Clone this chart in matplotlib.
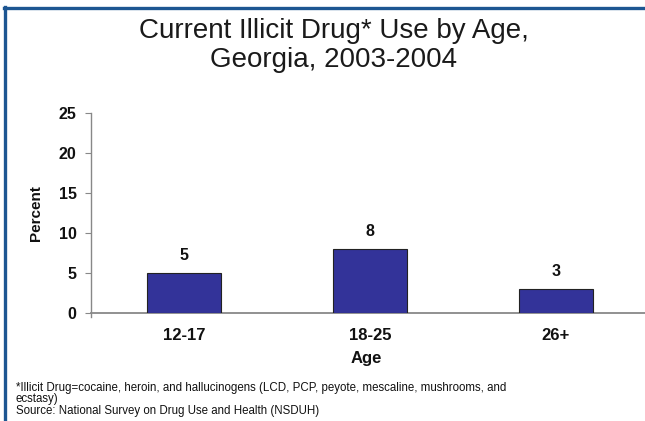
import matplotlib
matplotlib.use("Agg")
import matplotlib.pyplot as plt
from matplotlib.lines import Line2D

categories = ["12-17", "18-25", "26+"]
values = [5, 8, 3]
yticks = [0, 5, 10, 15, 20, 25]

plt.rcParams['font.family'] = ['Liberation Sans', 'DejaVu Sans']

W, H = 645, 421
fig = plt.figure(figsize=(W / 100, H / 100), dpi=100)

def fx(px):
    return px / W

def fy(py):
    return 1 - py / H

# frame lines (top and left)
border = "#1d5692"
fig.add_artist(Line2D([fx(3.5), 1.0], [fy(8.3), fy(8.3)], color=border, lw=2.4, transform=fig.transFigure))
fig.add_artist(Line2D([fx(5), fx(5)], [0, fy(7)], color=border, lw=2.4, transform=fig.transFigure))

ax = fig.add_axes([fx(91), fy(313), fx(649) - fx(91), fy(113) - fy(313)])

x = list(range(len(categories)))
ax.bar(x, values, width=0.4, color="#333399", edgecolor="#222222", linewidth=0.8, zorder=3)
for xi, v in zip(x, values):
    ax.text(xi, v + 1.2, str(v), ha="center", va="bottom", fontsize=11.5, fontweight="bold", color="#111111")

ax.set_xlim(-0.5, 2.5)
ax.set_ylim(0, 25)
ax.set_yticks(yticks)
ax.set_yticklabels([str(t) for t in yticks], fontsize=11.5, fontweight="bold", color="#111111")
ax.set_xticks(x)
ax.set_xticklabels(categories, fontsize=12, fontweight="bold", color="#111111")
ax.tick_params(axis="x", length=0, pad=11)
ax.tick_params(axis="y", length=4.3, width=0.8, color="#888888", pad=6)

for s in ["top", "right"]:
    ax.spines[s].set_visible(False)
ax.spines["left"].set_color("#888888")
ax.spines["bottom"].set_color("#888888")
ax.spines["left"].set_linewidth(1.0)
ax.spines["bottom"].set_linewidth(1.3)
ax.spines["left"].set_bounds(-0.5, 25)

fig.text(fx(36), fy(213), "Percent", rotation=90, ha="center", va="center",
         fontsize=11, fontweight="bold", color="#111111")
fig.text(fx(366), fy(359), "Age", ha="center", va="center",
         fontsize=12, fontweight="bold", color="#111111")

fig.text(fx(334), fy(38), "Current Illicit Drug* Use by Age,", ha="center", va="baseline",
         fontsize=20, color="#1a1a1a")
fig.text(fx(334), fy(67), "Georgia, 2003-2004", ha="center", va="baseline",
         fontsize=20, color="#1a1a1a")

foot_lines = ["*Illicit Drug=cocaine, heroin, and hallucinogens (LCD, PCP, peyote, mescaline, mushrooms, and",
              "ecstasy)",
              "Source: National Survey on Drug Use and Health (NSDUH)"]
for line, base in zip(foot_lines, [390.7, 402.2, 414.0]):
    fig.text(fx(16), fy(base), line, ha="left", va="baseline", fontsize=8.3, color="#111111")

fig.savefig("out.png", dpi=100)
